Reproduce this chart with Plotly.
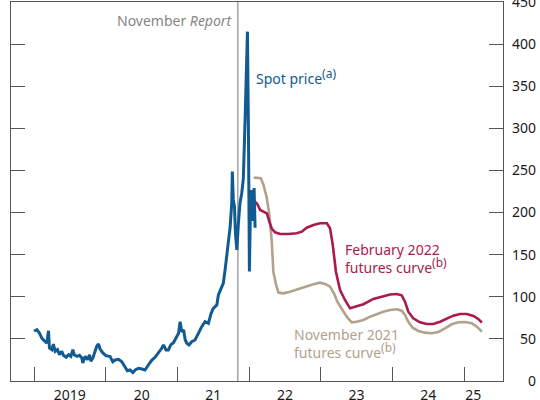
import plotly.graph_objects as go

# ---------------- data ----------------
spot_dates = [
    "2019-01-01", "2019-01-15", "2019-01-28", "2019-02-09", "2019-02-21", "2019-03-07",
    "2019-03-15", "2019-03-20", "2019-04-01", "2019-04-09", "2019-04-18", "2019-04-30",
    "2019-05-10", "2019-05-22", "2019-05-30", "2019-06-13", "2019-06-25", "2019-07-07",
    "2019-07-17", "2019-07-24", "2019-08-07", "2019-08-20", "2019-09-01", "2019-09-06",
    "2019-09-18", "2019-09-30", "2019-10-10", "2019-10-17", "2019-10-27", "2019-11-08",
    "2019-11-16", "2019-11-25", "2019-12-03", "2019-12-17",
    "2020-01-02", "2020-01-23", "2020-02-06", "2020-02-18", "2020-03-06", "2020-03-23",
    "2020-04-09", "2020-04-20", "2020-05-04", "2020-05-18", "2020-05-30", "2020-06-16",
    "2020-07-03", "2020-07-19", "2020-08-05", "2020-08-23", "2020-09-08", "2020-09-25",
    "2020-10-12", "2020-10-21", "2020-11-03", "2020-11-15", "2020-11-27", "2020-12-11",
    "2020-12-24",
    "2021-01-06", "2021-01-14", "2021-01-22", "2021-02-01", "2021-02-09", "2021-02-17",
    "2021-02-28", "2021-03-14", "2021-03-31", "2021-04-17", "2021-05-04", "2021-05-21",
    "2021-06-07", "2021-06-21", "2021-07-02", "2021-07-20", "2021-07-28", "2021-08-11",
    "2021-08-22", "2021-08-31", "2021-09-09", "2021-09-17", "2021-09-26", "2021-10-04",
    "2021-10-07", "2021-10-12", "2021-10-18", "2021-10-23", "2021-10-30", "2021-11-07",
    "2021-11-15", "2021-11-24", "2021-12-02", "2021-12-11", "2021-12-23", "2021-12-28",
    "2022-01-02", "2022-01-07", "2022-01-14", "2022-01-20", "2022-01-26", "2022-01-31",
]
spot_price = [
    59.0, 61.0, 57.0, 51.0, 47.9, 45.1,
    59.7, 39.2, 37.2, 43.9, 35.3, 37.2,
    31.2, 35.3, 30.5, 28.1, 31.2, 29.3,
    37.2, 31.2, 29.3, 30.5, 27.3, 21.4,
    29.3, 25.3, 31.2, 23.4, 27.3, 35.3,
    41.2, 43.9, 38.0, 33.3,
    30.0, 29.0, 22.9, 24.9, 25.7, 22.9,
    17.0, 12.2, 13.1, 9.9, 13.1, 15.1,
    14.3, 13.1, 19.0, 24.9, 28.1, 32.9,
    38.8, 42.8, 36.8, 36.8, 42.8, 45.5,
    50.7,
    56.7, 70.4, 58.6, 60.6, 48.7, 44.8,
    42.8, 46.7, 48.7, 56.6, 64.5, 70.4,
    68.5, 80.4, 86.3, 90.3, 102.1, 110.0,
    116.0, 131.8, 147.6, 167.5, 183.3, 211.0,
    248.6, 215.0, 207.0, 175.0, 155.6, 187.3,
    211.0, 223.0, 240.0, 310.0, 414.8, 300.0,
    130.0, 200.0, 226.8, 190.0, 229.0, 182.0,
]

feb22_dates = [
    "2022-01-28", "2022-02-09", "2022-02-26", "2022-03-15", "2022-04-01", "2022-04-14",
    "2022-04-26", "2022-05-13", "2022-06-07", "2022-07-19", "2022-08-31", "2022-09-26",
    "2022-10-21", "2022-11-24", "2022-12-28", "2023-02-01", "2023-02-17", "2023-03-03",
    "2023-03-19", "2023-04-09", "2023-05-04", "2023-05-30", "2023-07-03", "2023-08-06",
    "2023-09-26", "2023-11-15", "2023-12-20", "2024-01-23", "2024-02-17", "2024-03-05",
    "2024-03-22", "2024-04-16", "2024-05-20", "2024-06-23", "2024-07-27", "2024-08-31",
    "2024-10-04", "2024-11-06", "2024-12-10", "2025-01-14", "2025-02-17", "2025-03-15",
    "2025-04-01",
]
feb22_price = [
    213.0, 211.0, 203.0, 201.0, 199.0, 189.0,
    181.0, 176.6, 174.6, 174.6, 175.4, 177.3,
    182.0, 185.3, 187.3, 187.3, 181.4, 161.5,
    129.8, 108.0, 96.2, 86.3, 88.3, 91.1,
    97.4, 100.8, 102.7, 103.3, 101.8, 94.2,
    82.3, 74.5, 69.7, 67.7, 67.7, 70.4,
    74.5, 77.6, 79.6, 79.6, 77.2, 73.3,
    69.2,
]

nov21_dates = [
    "2022-01-24", "2022-03-01", "2022-03-15", "2022-04-01", "2022-04-14", "2022-04-26",
    "2022-05-04", "2022-05-18", "2022-05-30", "2022-06-24", "2022-07-28", "2022-09-08",
    "2022-10-21", "2022-11-24", "2022-12-28", "2023-01-23", "2023-02-17", "2023-03-09",
    "2023-03-26", "2023-04-17", "2023-05-13", "2023-06-07", "2023-07-03", "2023-08-06",
    "2023-09-09", "2023-10-13", "2023-11-15", "2023-12-20", "2024-01-23", "2024-02-17",
    "2024-03-05", "2024-03-22", "2024-04-13", "2024-05-12", "2024-06-15", "2024-07-19",
    "2024-08-22", "2024-09-25", "2024-10-29", "2024-12-02", "2025-01-06", "2025-02-09",
    "2025-03-06", "2025-04-01",
]
nov21_price = [
    241.5, 240.7, 232.8, 217.0, 197.0, 165.4,
    129.8, 114.0, 104.9, 104.1, 106.0, 109.3,
    112.0, 114.8, 116.8, 115.2, 112.0, 104.1,
    94.2, 86.3, 76.4, 69.7, 70.4, 72.4,
    76.4, 79.2, 82.3, 84.3, 85.1, 83.5,
    78.4, 70.4, 63.3, 59.4, 57.4, 56.7,
    58.2, 62.6, 67.3, 69.7, 70.1, 68.5,
    64.5, 58.6,
]

report_date = "2021-11-04"
year_ticks = ["2019-01-01", "2020-01-01", "2021-01-01", "2022-01-01",
              "2023-01-01", "2024-01-01", "2025-01-01"]
year_label_pos = ["2019-07-02", "2020-07-02", "2021-07-02", "2022-07-02",
                  "2023-07-02", "2024-07-02", "2025-02-16"]
year_labels = ["2019", "20", "21", "22", "23", "24", "25"]
price_ticks = [0, 50, 100, 150, 200, 250, 300, 350, 400, 450]
price_labels = [str(v) for v in price_ticks]

x_range = ["2018-09-05", "2025-07-19"]
y_range = [0, 450]

# ---------------- style ----------------
FONT = "Noto Sans"
BLUE = "#125a92"
CRIMSON = "#aa1a4d"
TAN = "#b2a18b"
AXIS = "#555555"
TXT = "#1a1a1a"

fig = go.Figure()
fig.add_trace(go.Scatter(x=nov21_dates, y=nov21_price, mode="lines",
                         line=dict(color=TAN, width=2.6), showlegend=False))
fig.add_trace(go.Scatter(x=feb22_dates, y=feb22_price, mode="lines",
                         line=dict(color=CRIMSON, width=2.6), showlegend=False))
fig.add_trace(go.Scatter(x=spot_dates, y=spot_price, mode="lines",
                         line=dict(color=BLUE, width=3), showlegend=False))
# dummy trace to activate the label-only overlay axes
fig.add_trace(go.Scatter(x=[], y=[], xaxis="x2", yaxis="y2", showlegend=False,
                         hoverinfo="skip"))

W, H = 540, 400
ML, MR, MT, MB = 11, 4, 2, 19
plot_w = W - ML - MR
dom_end = (503.3 - ML) / plot_w

fig.add_shape(type="line", xref="x", yref="paper", x0=report_date, x1=report_date,
              y0=0, y1=1, line=dict(color="#a3a3a3", width=1.5), layer="below")

fig.update_layout(
    width=W, height=H,
    margin=dict(l=ML, r=MR, t=MT, b=MB, autoexpand=False),
    paper_bgcolor="white", plot_bgcolor="white",
    font=dict(family=FONT, size=14, color=TXT),
    xaxis=dict(type="date", range=x_range, domain=[0, dom_end],
               tickmode="array", tickvals=year_ticks, showticklabels=False,
               ticks="inside", ticklen=14, tickwidth=1.3, tickcolor=AXIS,
               showline=True, linecolor=AXIS, linewidth=1.3, mirror=True,
               showgrid=False, zeroline=False),
    xaxis2=dict(type="date", range=x_range, domain=[0, dom_end], overlaying="x",
                anchor="y", side="bottom", automargin=False,
                tickmode="array", tickvals=year_label_pos, ticktext=year_labels,
                ticks="", showline=False, showgrid=False, zeroline=False,
                ticklabelstandoff=4,
                tickfont=dict(size=14, color=TXT)),
    yaxis=dict(range=y_range, side="right", anchor="x",
               tickmode="array", tickvals=price_ticks, showticklabels=False,
               ticks="inside", ticklen=14, tickwidth=1.3, tickcolor=AXIS,
               showline=True, linecolor=AXIS, linewidth=1.3, mirror="ticks",
               showgrid=False, zeroline=False),
    yaxis2=dict(range=y_range, overlaying="y", anchor="free", position=1.0,
                side="left", automargin=False, tickmode="array", tickvals=price_ticks,
                ticktext=price_labels, ticks="", showline=False, showgrid=False,
                zeroline=False, ticklabeloverflow="allow",
                tickfont=dict(size=14, color=TXT)),
)

SUP = '<sup><span style="font-size:12px">{}</span></sup>'
fig.add_annotation(x=report_date, y=428, xref="x", yref="y", xshift=-4,
                   text="November <i>Report</i>", showarrow=False,
                   xanchor="right", yanchor="middle",
                   font=dict(color="#858585", size=14))
fig.add_annotation(x="2022-01-26", y=362, xref="x", yref="y",
                   text="Spot price" + SUP.format("(a)"), showarrow=False,
                   xanchor="left", yanchor="middle",
                   font=dict(color=BLUE, size=14))
fig.add_annotation(x="2023-04-25", y=145, xref="x", yref="y",
                   text="February 2022<br>futures curve" + SUP.format("(b)"),
                   showarrow=False, xanchor="left", yanchor="middle", align="left",
                   font=dict(color=CRIMSON, size=14))
fig.add_annotation(x="2022-08-08", y=45, xref="x", yref="y",
                   text="November 2021<br>futures curve" + SUP.format("(b)"),
                   showarrow=False, xanchor="left", yanchor="middle", align="left",
                   font=dict(color=TAN, size=14))

fig.write_html("out.html",
               config={"displayModeBar": False},
               post_script="document.body.style.margin='0px';"
                           "document.body.style.overflow='hidden';")
